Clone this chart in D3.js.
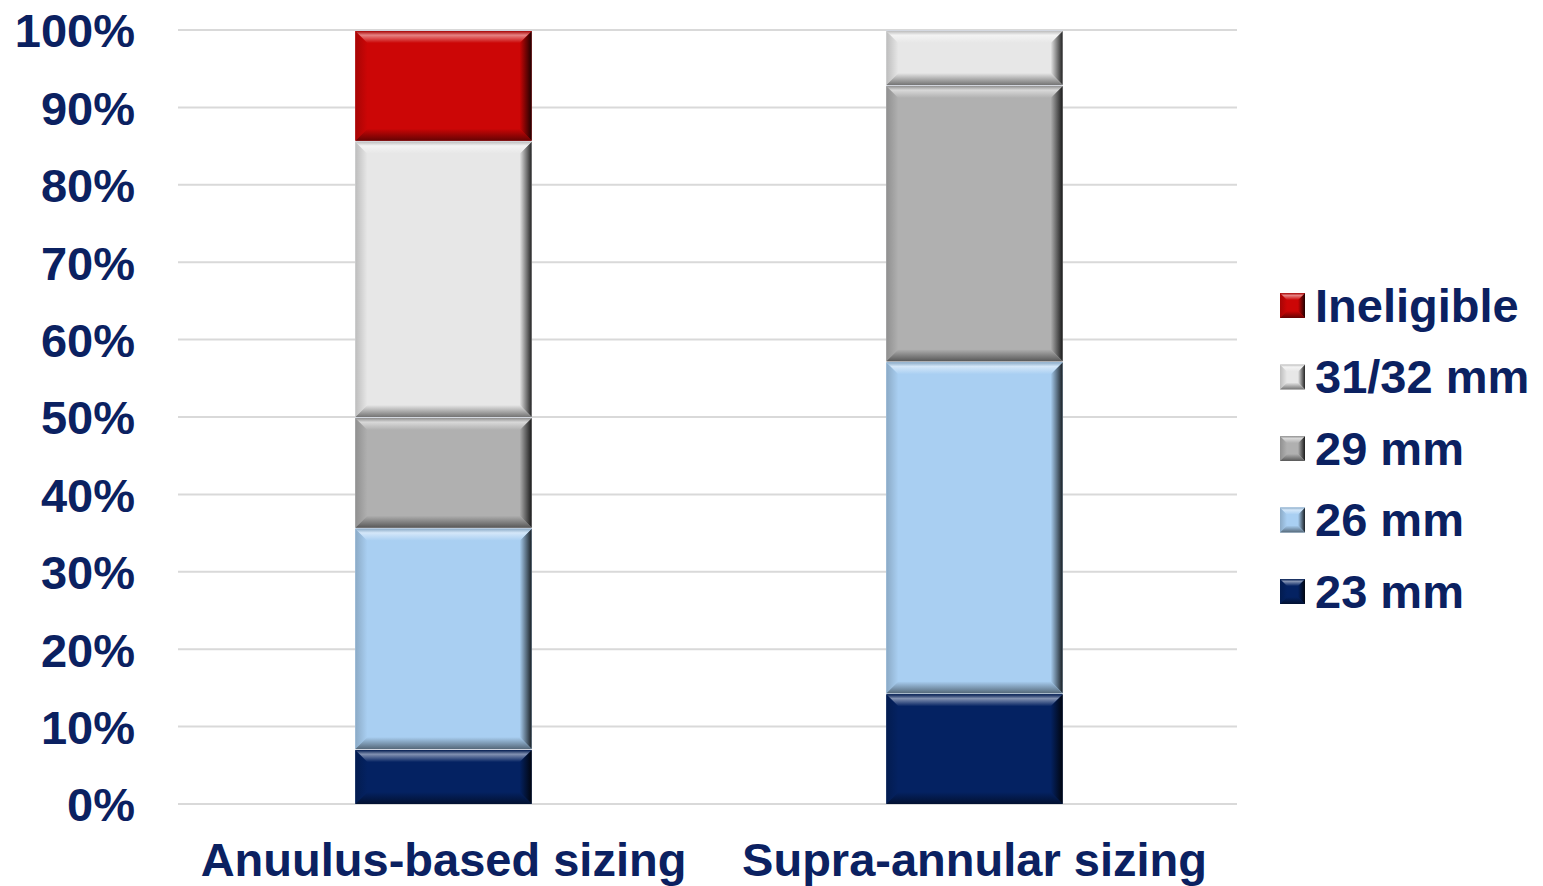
<!DOCTYPE html>
<html>
<head>
<meta charset="utf-8">
<script src="https://cdn.jsdelivr.net/npm/d3@7"></script>
<style>
  html, body { margin: 0; padding: 0; background: #ffffff; }
  svg { display: block; }
  text { font-family: "Liberation Sans", Arial, sans-serif; font-weight: bold; fill: #0b2161; }
</style>
</head>
<body>
<svg id="chart" width="1543" height="886"></svg>
<script>
// Share of patients by valve size, per sizing strategy (percent, stacked bottom-up)
const categories = ["Anuulus-based sizing", "Supra-annular sizing"];
const seriesNames = ["23 mm", "26 mm", "29 mm", "31/32 mm", "Ineligible"];
const values23 = [7.1, 14.3];
const values26 = [28.6, 42.9];
const values29 = [14.3, 35.7];
const values3132 = [35.7, 7.1];
const valuesIneligible = [14.3, 0];
const yTicks = [0, 10, 20, 30, 40, 50, 60, 70, 80, 90, 100];
const legendOrder = ["Ineligible", "31/32 mm", "29 mm", "26 mm", "23 mm"];

const seriesValues = {
  "23 mm": values23,
  "26 mm": values26,
  "29 mm": values29,
  "31/32 mm": values3132,
  "Ineligible": valuesIneligible
};
const colors = {
  "23 mm": "#042262",
  "26 mm": "#a9cff2",
  "29 mm": "#b0b0b0",
  "31/32 mm": "#e7e7e7",
  "Ineligible": "#cc0606"
};

const svg = d3.select("#chart");
const margin = { left: 178, right: 1543 - 1240, top: 30, bottom: 886 - 804 };
const plotW = 1543 - margin.left - margin.right;
const plotH = 886 - margin.top - margin.bottom;

const x = d3.scaleBand().domain(categories).range([0, plotW])
  .paddingInner(0.668).paddingOuter(0.334);
const y = d3.scaleLinear().domain([0, 100]).range([plotH, 0]);

const defs = svg.append("defs");
const key = s => s.replace(/[^a-z0-9]/gi, "_");

// Edge gradients for the bevelled look
seriesNames.forEach(s => {
  const base = d3.color(colors[s]);
  const dark = d3.interpolateRgb(base, "#000")(0.5);
  const vdark = d3.interpolateRgb(base, "#000")(0.85);
  const light = d3.interpolateRgb(base, "#fff")(0.5);
  const mid = d3.interpolateRgb(base, "#000")(0.18);

  const top = defs.append("linearGradient").attr("id", "top_" + key(s))
    .attr("x1", 0).attr("y1", 0).attr("x2", 0).attr("y2", 1);
  top.append("stop").attr("offset", "0%").attr("stop-color", mid);
  top.append("stop").attr("offset", "35%").attr("stop-color", light);
  top.append("stop").attr("offset", "100%").attr("stop-color", base.formatHex());

  const bot = defs.append("linearGradient").attr("id", "bot_" + key(s))
    .attr("x1", 0).attr("y1", 0).attr("x2", 0).attr("y2", 1);
  bot.append("stop").attr("offset", "0%").attr("stop-color", base.formatHex());
  bot.append("stop").attr("offset", "100%").attr("stop-color", dark);

  const left = defs.append("linearGradient").attr("id", "left_" + key(s))
    .attr("x1", 0).attr("y1", 0).attr("x2", 1).attr("y2", 0);
  left.append("stop").attr("offset", "0%").attr("stop-color", mid);
  left.append("stop").attr("offset", "100%").attr("stop-color", base.formatHex());

  const right = defs.append("linearGradient").attr("id", "right_" + key(s))
    .attr("x1", 0).attr("y1", 0).attr("x2", 1).attr("y2", 0);
  right.append("stop").attr("offset", "0%").attr("stop-color", base.formatHex());
  right.append("stop").attr("offset", "100%").attr("stop-color", vdark);
});

function bevelRect(g, s, x0, y0, w, h, bev) {
  const b = Math.min(bev, h / 2, w / 2);
  g.append("rect").attr("x", x0).attr("y", y0).attr("width", w).attr("height", h)
    .attr("fill", colors[s]);
  const pts = a => a.map(p => p.join(",")).join(" ");
  g.append("polygon").attr("fill", `url(#left_${key(s)})`)
    .attr("points", pts([[x0, y0], [x0 + b, y0 + b], [x0 + b, y0 + h - b], [x0, y0 + h]]));
  g.append("polygon").attr("fill", `url(#right_${key(s)})`)
    .attr("points", pts([[x0 + w, y0], [x0 + w - b, y0 + b], [x0 + w - b, y0 + h - b], [x0 + w, y0 + h]]));
  g.append("polygon").attr("fill", `url(#top_${key(s)})`)
    .attr("points", pts([[x0, y0], [x0 + w, y0], [x0 + w - b, y0 + b], [x0 + b, y0 + b]]));
  g.append("polygon").attr("fill", `url(#bot_${key(s)})`)
    .attr("points", pts([[x0, y0 + h], [x0 + w, y0 + h], [x0 + w - b, y0 + h - b], [x0 + b, y0 + h - b]]));
}

const g = svg.append("g").attr("transform", `translate(${margin.left},${margin.top})`);

// Horizontal gridlines
g.append("g").selectAll("line").data(yTicks).join("line")
  .attr("x1", 0).attr("x2", 1237 - margin.left)
  .attr("y1", d => y(d)).attr("y2", d => y(d))
  .attr("stroke", "#d9d9d9").attr("stroke-width", 2);

// Y axis labels
const yAxis = d3.axisLeft(y).tickValues(yTicks).tickFormat(d => d + "%").tickSize(0).tickPadding(43);
const yg = g.append("g").call(yAxis);
yg.select(".domain").remove();
yg.selectAll("text").attr("font-size", 47).attr("dy", "0.36em")
  .style("font-family", '"Liberation Sans", Arial, sans-serif').style("font-weight", "bold")
  .attr("fill", "#0b2161");

// Stacked bars
const stackData = categories.map((c, i) => {
  const row = { cat: c };
  seriesNames.forEach(s => row[s] = seriesValues[s][i]);
  return row;
});
const stacked = d3.stack().keys(seriesNames)(stackData);

const barsG = g.append("g");
stackData.forEach(row => {
  barsG.append("rect").attr("x", x(row.cat)).attr("width", x.bandwidth())
    .attr("y", y(100)).attr("height", y(0) - y(100)).attr("fill", "#d4d8e0");
});
stacked.forEach(layer => {
  const s = layer.key;
  layer.forEach(d => {
    const v = d[1] - d[0];
    if (v <= 0) return;
    const top = y(d[1]);
    const bottom = y(d[0]);
    bevelRect(barsG, s, x(d.data.cat), top + 1, x.bandwidth(), bottom - top - 1, 12);
  });
});

// X axis labels
const xAxis = d3.axisBottom(x).tickSize(0).tickPadding(39);
const xg = g.append("g").attr("transform", `translate(0,${plotH})`).call(xAxis);
xg.select(".domain").remove();
xg.selectAll("text").attr("font-size", 47).attr("dy", "0.71em")
  .style("font-family", '"Liberation Sans", Arial, sans-serif').style("font-weight", "bold")
  .attr("fill", "#0b2161");

// Legend
const legend = svg.append("g").attr("transform", "translate(1280,305)");
legendOrder.forEach((s, i) => {
  const item = legend.append("g").attr("transform", `translate(0,${i * 71.5})`);
  bevelRect(item, s, 0, -12, 25, 25, 7);
  item.append("text").attr("x", 35).attr("y", 0).attr("dy", "0.36em")
    .attr("font-size", 47).text(s);
});
</script>
</body>
</html>
